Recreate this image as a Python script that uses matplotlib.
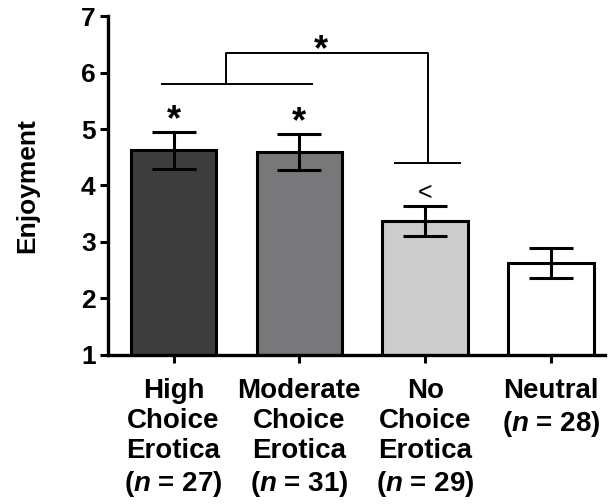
import matplotlib.pyplot as plt
import numpy as np

plt.rcParams['font.family'] = ['Liberation Sans', 'DejaVu Sans']
plt.rcParams['font.weight'] = 'bold'
plt.rcParams['axes.labelweight'] = 'bold'
plt.rcParams['mathtext.fontset'] = 'custom'
plt.rcParams['mathtext.rm'] = 'Liberation Sans:bold'
plt.rcParams['mathtext.it'] = 'Liberation Sans:italic:bold'

groups = ['High\nChoice\nErotica\n($n$ = 27)',
          'Moderate\nChoice\nErotica\n($n$ = 31)',
          'No\nChoice\nErotica\n($n$ = 29)',
          'Neutral\n($n$ = 28)']
means = [4.62, 4.60, 3.37, 2.63]
sems = [0.33, 0.32, 0.26, 0.27]
bar_colours = ['#3d3d3d', '#78787b', '#cccccc', '#ffffff']
bar_marks = ['*', '*', '<', '']

fig = plt.figure(figsize=(6.08, 5.04), dpi=100)
ax = fig.add_axes([0.178, 0.296, 0.817, 0.672])

x = np.arange(len(groups))
ax.bar(x, means, width=0.68, bottom=0, color=bar_colours, edgecolor='black',
       linewidth=2.2, zorder=2)
ax.errorbar(x, means, yerr=sems, fmt='none', ecolor='black', elinewidth=2.2,
            capsize=16, capthick=2.2, zorder=3)

for xi, m, s, mark in zip(x, means, sems, bar_marks):
    if mark == '*':
        ax.text(xi, m + s + 0.03, mark, ha='center', va='baseline', fontsize=26)
    elif mark:
        ax.text(xi, m + s + 0.12, mark, ha='center', va='baseline', fontsize=18,
                fontweight='normal')

# comparison brackets: choice groups vs no-choice group
lw = 1.4
ax.plot([-0.09, 1.10], [5.80, 5.80], color='black', lw=lw, clip_on=False)
ax.plot([0.42, 0.42, 2.02, 2.02], [5.80, 6.35, 6.35, 4.40], color='black',
        lw=lw, clip_on=False)
ax.plot([1.76, 2.28], [4.40, 4.40], color='black', lw=lw, clip_on=False)
ax.text(1.17, 6.22, '*', ha='center', va='baseline', fontsize=26)

ax.set_ylim(1, 7)
ax.set_xlim(-0.52, 3.43)
ax.set_yticks(range(1, 8))
ax.set_xticks(x)
ax.set_xticklabels(groups, fontsize=20, linespacing=1.2)
ax.tick_params(axis='y', labelsize=19, width=2.2, length=6, pad=3)
ax.tick_params(axis='x', width=2.2, length=6, pad=11)
ax.set_ylabel('Enjoyment', fontsize=19, labelpad=30)

for side in ['top', 'right']:
    ax.spines[side].set_visible(False)
for side in ['left', 'bottom']:
    ax.spines[side].set_linewidth(2.4)

plt.savefig('out.png', dpi=100)
